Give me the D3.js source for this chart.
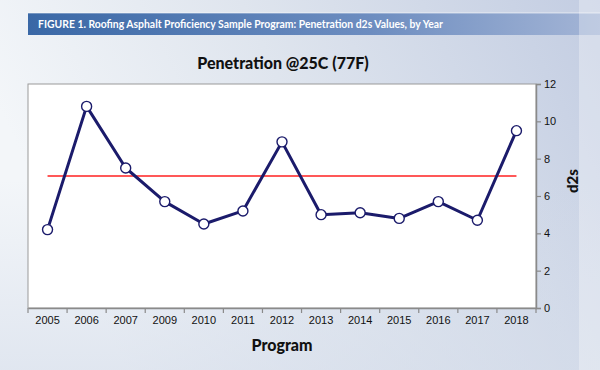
<!DOCTYPE html>
<html><head><meta charset="utf-8">
<script src="https://cdn.jsdelivr.net/npm/d3@7"></script>
<style>html,body{margin:0;padding:0;overflow:hidden;}svg{display:block;}</style>
</head><body>
<svg id="c" width="600" height="370"></svg>
<script>
const categories = ["2005","2006","2007","2009","2010","2011","2012","2013","2014","2015","2016","2017","2018"];
const d2sValues = [4.2,10.8,7.5,5.7,4.5,5.2,8.9,5.0,5.1,4.8,5.7,4.7,9.5];
const referenceValue = [7.07];
const yTicks = [0,2,4,6,8,10,12];
const figureTitle = "FIGURE 1. Roofing Asphalt Proficiency Sample Program: Penetration d2s Values, by Year";
const chartTitle = "Penetration @25C (77F)";
const xTitle = "Program";
const yTitle = "d2s";

const svg = d3.select("#c");
const defs = svg.append("defs");
const bg = defs.append("linearGradient").attr("id","bg").attr("x1","0").attr("y1","0.3").attr("x2","1").attr("y2","0");
bg.append("stop").attr("offset","0").attr("stop-color","#f3f6f9");
bg.append("stop").attr("offset","0.45").attr("stop-color","#dfe5ee");
bg.append("stop").attr("offset","1").attr("stop-color","#c3cde2");
const hb = defs.append("linearGradient").attr("id","hb").attr("x1","0").attr("x2","1");
hb.append("stop").attr("offset","0").attr("stop-color","#3a68a6");
hb.append("stop").attr("offset","0.6").attr("stop-color","#6d8dc0");
hb.append("stop").attr("offset","1").attr("stop-color","#a4b5d6");

svg.append("rect").attr("width",600).attr("height",370).attr("fill","url(#bg)");
const bg2 = defs.append("linearGradient").attr("id","bg2").attr("x1","0").attr("y1","0").attr("x2","0").attr("y2","1");
bg2.append("stop").attr("offset","0").attr("stop-color","#d4dcea").attr("stop-opacity",0);
bg2.append("stop").attr("offset","1").attr("stop-color","#d4dcea").attr("stop-opacity",0.6);
svg.append("rect").attr("y",180).attr("width",600).attr("height",190).attr("fill","url(#bg2)");

// header bar
svg.append("rect").attr("x",28).attr("y",13).attr("width",572).attr("height",22).attr("fill","url(#hb)");
svg.append("line").attr("x1",28).attr("x2",600).attr("y1",13).attr("y2",13).attr("stroke","#ffffff").attr("stroke-opacity",0.6);
svg.append("text").attr("x",38).attr("y",28).attr("fill","#fff").attr("font-family","Lato, 'Open Sans', sans-serif")
  .attr("font-weight","bold").attr("font-size",10.4).text(figureTitle);
svg.append("rect").attr("x",579).attr("y",0).attr("width",21).attr("height",370).attr("fill","#ffffff").attr("fill-opacity",0.3);

const pL = 28, pR = 536, pT = 84, pB = 308;
const x = d3.scaleBand().domain(categories).range([pL,pR]);
const y = d3.scaleLinear().domain([0,12]).range([pB,pT]);

svg.append("rect").attr("x",pL).attr("y",pT).attr("width",pR-pL).attr("height",pB-pT)
  .attr("fill","#fff").attr("stroke","#9a9a9a").attr("stroke-width",1);

const xa = svg.append("g").attr("transform",`translate(0,${pB})`)
  .call(d3.axisBottom(x).tickSize(0).tickPadding(8));
xa.select(".domain").attr("stroke","#8a8a8a").attr("stroke-width",1.5);
xa.selectAll("text").attr("font-family","Arial, 'Liberation Sans', sans-serif").attr("font-size",11).attr("fill","#111");
const bounds = categories.map(c => x(c)).concat([pR]);
svg.append("g").selectAll("line").data(bounds).join("line")
  .attr("x1",d=>d).attr("x2",d=>d).attr("y1",pB).attr("y2",pB+5)
  .attr("stroke","#8a8a8a").attr("stroke-width",1.2);

const ya = svg.append("g").attr("transform",`translate(${pR},0)`)
  .call(d3.axisRight(y).tickValues(yTicks).tickSize(5).tickPadding(3));
ya.select(".domain").attr("stroke","#8a8a8a").attr("stroke-width",1.5);
ya.selectAll(".tick line").attr("stroke","#8a8a8a").attr("stroke-width",1.2);
ya.selectAll("text").attr("font-family","Arial, 'Liberation Sans', sans-serif").attr("font-size",11).attr("fill","#111");

const cx = c => x(c) + x.bandwidth()/2;
svg.append("line").attr("x1",cx(categories[0])).attr("x2",cx(categories[categories.length-1]))
  .attr("y1",y(referenceValue[0])).attr("y2",y(referenceValue[0]))
  .attr("stroke","#ff2020").attr("stroke-width",1.5);

const pts = categories.map((c,i)=>({c, v:d2sValues[i]}));
svg.append("path").datum(pts).attr("fill","none").attr("stroke","#1b1b6b").attr("stroke-width",3)
  .attr("stroke-linejoin","round")
  .attr("d", d3.line().x(d=>cx(d.c)).y(d=>y(d.v)));
svg.append("g").selectAll("circle").data(pts).join("circle")
  .attr("cx",d=>cx(d.c)).attr("cy",d=>y(d.v)).attr("r",5)
  .attr("fill","#fff").attr("stroke","#1b1b6b").attr("stroke-width",1.4);

const tf = "Lato, 'Open Sans', sans-serif";
svg.append("text").attr("x",283).attr("y",69).attr("text-anchor","middle").attr("font-family",tf)
  .attr("font-weight","900").attr("font-size",16).attr("fill","#111").text(chartTitle);
svg.append("text").attr("x",282).attr("y",351).attr("text-anchor","middle").attr("font-family",tf)
  .attr("font-weight","900").attr("font-size",16).attr("fill","#111").text(xTitle);
svg.append("text").attr("transform","translate(578,181) rotate(-90)").attr("text-anchor","middle").attr("font-family",tf)
  .attr("font-weight","900").attr("font-size",15).attr("fill","#111").text(yTitle);
</script>
</body></html>
